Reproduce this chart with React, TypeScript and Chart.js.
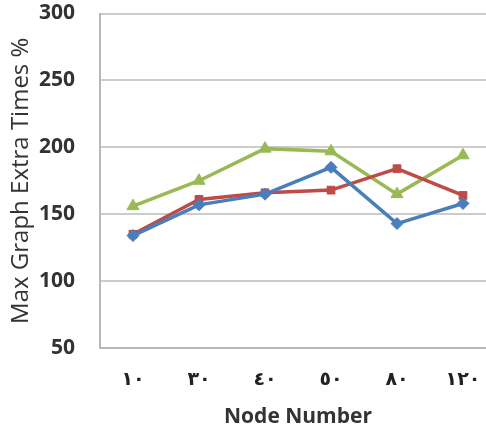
import { useEffect, useRef } from "react";
import { Chart, registerables } from "chart.js";

Chart.register(...registerables);

// Node counts (Arabic-Indic digits) along the x axis
const nodeLabels = ["١٠", "٣٠", "٤٠", "٥٠", "٨٠", "١٢٠"];

// Max graph extra times (%) per series
const blueSeries = [134, 157, 165, 185, 143, 158];
const redSeries = [135, 161, 166, 168, 184, 164];
const greenSeries = [156, 175, 199, 197, 165, 194];

const yMin = 50;
const yMax = 300;
const yStep = 50;

export default function App() {
  const canvasRef = useRef<HTMLCanvasElement | null>(null);

  useEffect(() => {
    if (!canvasRef.current) return;
    const chart = new Chart(canvasRef.current, {
      type: "line",
      data: {
        labels: nodeLabels,
        datasets: [
          {
            data: blueSeries,
            borderColor: "#4A7EBB",
            backgroundColor: "#4A7EBB",
            borderWidth: 3.5,
            pointStyle: "rectRot",
            pointRadius: 6,
            pointBorderWidth: 1,
          },
          {
            data: redSeries,
            borderColor: "#BE4B48",
            backgroundColor: "#BE4B48",
            borderWidth: 3.5,
            pointStyle: "rect",
            pointRadius: 5.5,
            pointBorderWidth: 1,
          },
          {
            data: greenSeries,
            borderColor: "#98B954",
            backgroundColor: "#98B954",
            borderWidth: 3.5,
            pointStyle: "triangle",
            pointRadius: 7,
            pointBorderWidth: 1,
          },
        ],
      },
      options: {
        animation: false,
        responsive: true,
        maintainAspectRatio: false,
        layout: { padding: { left: 7, right: 5, top: 13.5, bottom: 5 } },
        plugins: {
          legend: { display: false },
          tooltip: { enabled: false },
        },
        scales: {
          x: {
            offset: true,
            grid: { display: false, drawTicks: false },
            border: { display: true, color: "#b8b8b8", width: 2 },
            ticks: {
              color: "#222",
              padding: 21,
              font: { family: "DejaVu Sans", size: 19, weight: "bold" },
              maxRotation: 0,
            },
            title: {
              display: true,
              text: "Node Number",
              color: "#333",
              padding: { top: 12, bottom: 0 },
              font: { family: "Open Sans", size: 21, weight: "bold" },
            },
            // fixed band height for tick labels and title
            afterFit: (scale: any) => {
              scale.height = 82;
            },
          },
          y: {
            min: yMin,
            max: yMax,
            ticks: {
              stepSize: yStep,
              color: "#333",
              padding: 25,
              font: { family: "Open Sans", size: 21, weight: "bold" },
            },
            grid: { color: "#cccccc", lineWidth: 2, drawTicks: false },
            border: { display: true, color: "#b8b8b8", width: 2 },
            title: {
              display: true,
              text: "Max Graph Extra Times %",
              color: "#333",
              padding: { top: 0, bottom: 2 },
              font: { family: "Open Sans", size: 24 },
            },
            // fixed band width; keep tick padding from pushing the plot area down
            afterFit: (scale: any) => {
              scale.width = 93;
              scale.paddingTop = 0;
              scale.paddingBottom = 0;
            },
          },
        },
      },
    });
    return () => chart.destroy();
  }, []);

  return (
    <div
      style={{
        position: "fixed",
        left: 0,
        top: 0,
        width: 486,
        height: 435,
        overflow: "hidden",
        background: "#fff",
      }}
    >
      <div style={{ width: 504, height: 435 }}>
        <canvas ref={canvasRef} />
      </div>
    </div>
  );
}
